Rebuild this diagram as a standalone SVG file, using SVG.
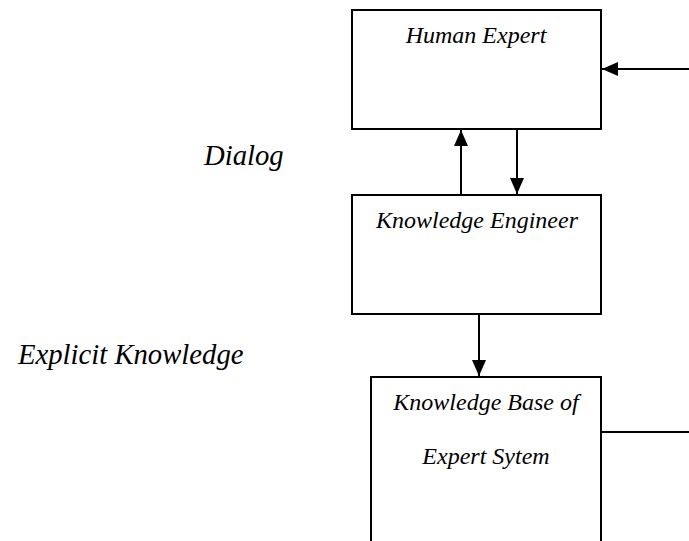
<svg xmlns="http://www.w3.org/2000/svg" width="689" height="541" viewBox="0 0 689 541">
<style>
.box{fill:#fff;stroke:#000;stroke-width:2}
.t{font-family:"Liberation Serif","Times New Roman",serif;font-style:italic;fill:#000}
.bt{font-size:24px;text-anchor:middle}
.lt{font-size:28.7px}
.c{stroke:#000;stroke-width:2;fill:none}
</style>
<defs>
<marker id="ah" viewBox="0 0 16 14" refX="16" refY="7" markerWidth="16" markerHeight="14" markerUnits="userSpaceOnUse" orient="auto">
<path d="M0,0 L16,7 L0,14 Z" fill="#000"/>
</marker>
</defs>
<rect width="689" height="541" fill="#fff"/>
<g id="human-expert">
<rect class="box" x="352" y="10" width="249" height="119"/>
<text class="t bt" x="476" y="43">Human Expert</text>
</g>
<g id="knowledge-engineer">
<rect class="box" x="352" y="195" width="249" height="119"/>
<text class="t bt" x="477" y="228">Knowledge Engineer</text>
</g>
<g id="knowledge-base">
<rect class="box" x="371" y="377" width="230" height="180"/>
<text class="t bt" x="486" y="410">Knowledge Base of</text>
<text class="t bt" x="486" y="464">Expert Sytem</text>
</g>
<g id="labels">
<text class="t lt" x="204" y="165">Dialog</text>
<text class="t lt" x="18" y="364">Explicit Knowledge</text>
</g>
<g id="connectors">
<line class="c" x1="689" y1="69" x2="602" y2="69" marker-end="url(#ah)"/>
<line class="c" x1="461" y1="195" x2="461" y2="130" marker-end="url(#ah)"/>
<line class="c" x1="517" y1="129" x2="517" y2="194" marker-end="url(#ah)"/>
<line class="c" x1="479" y1="314" x2="479" y2="376" marker-end="url(#ah)"/>
<line class="c" x1="601" y1="432" x2="689" y2="432"/>
</g>
</svg>
